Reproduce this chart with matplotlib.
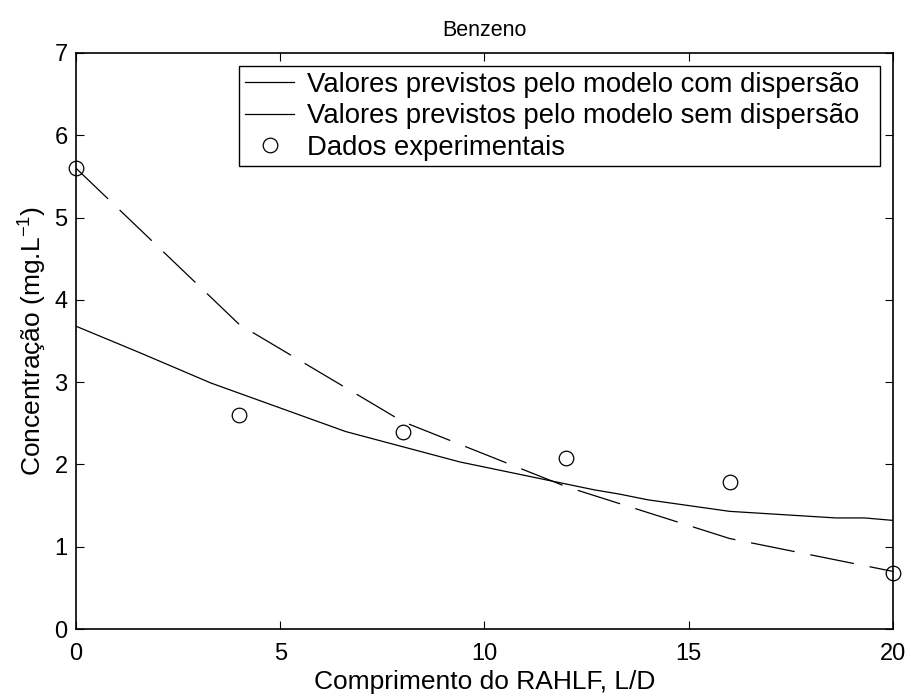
import numpy as np
import matplotlib
matplotlib.use('Agg')
import matplotlib.pyplot as plt
from matplotlib.lines import Line2D

plt.rcParams['font.family'] = ['Liberation Sans', 'DejaVu Sans']
plt.rcParams['mathtext.default'] = 'regular'
plt.rcParams['lines.scale_dashes'] = False

# modelo com dispersao (solucao numerica)
x_com = [0, 1.6, 3.3, 6.6, 9.4, 12.7, 13.3, 14.0, 16.0, 18.6, 19.3, 20]
y_com = [3.68, 3.35, 2.99, 2.40, 2.03, 1.69, 1.64, 1.57, 1.43, 1.35, 1.35, 1.32]

# modelo sem dispersao
x_sem = [0, 4, 8, 12, 16, 20]
y_sem = [5.6, 3.7, 2.52, 1.73, 1.1, 0.70]

# dados experimentais
x_exp = [0, 4, 8, 12, 16, 20]
y_exp = [5.6, 2.6, 2.4, 2.08, 1.79, 0.68]

fig = plt.figure(figsize=(9.11, 7.0), dpi=100)
ax = fig.add_axes([0.0834, 0.1014, 0.8968, 0.8229])

ax.plot(x_com, y_com, color='black', linewidth=0.9)
ax.plot(x_sem, y_sem, color='black', linewidth=0.9, dashes=(32, 11.5))
ax.plot(x_exp, y_exp, 'o', color='black', markerfacecolor='none',
        markersize=10.5, markeredgewidth=0.9, clip_on=False)

ax.set_xlim(0, 20)
ax.set_ylim(0, 7)
ax.set_xticks([0, 5, 10, 15, 20])
ax.set_yticks(range(8))
ax.tick_params(direction='in', length=6, width=0.8, top=True, right=True,
               labelsize=17)
ax.tick_params(axis='x', pad=10)
ax.tick_params(axis='y', pad=6)
for s in ax.spines.values():
    s.set_linewidth(1.2)

ax.set_title('Benzeno', fontsize=15.5, pad=12)
ax.set_xlabel('Comprimento do RAHLF, L/D', fontsize=19, labelpad=4)
ax.set_ylabel('Concentração (mg.L$^{-1}$)', fontsize=19, labelpad=4)

handles = [Line2D([], [], color='black', linewidth=0.9),
           Line2D([], [], color='black', linewidth=0.9),
           Line2D([], [], linestyle='none', marker='o', color='black',
                  markerfacecolor='none', markersize=10.5, markeredgewidth=0.9)]
labels = ['Valores previstos pelo modelo com dispersão',
          'Valores previstos pelo modelo sem dispersão',
          'Dados experimentais']
leg = ax.legend(handles, labels, loc='upper left',
                bbox_to_anchor=(0.2, 0.6, 0.784, 0.377), mode='expand',
                fontsize=19.8, fancybox=False, framealpha=1, edgecolor='black',
                handlelength=1.8, handletextpad=0.45, labelspacing=0.2,
                borderpad=0.2, borderaxespad=0)
leg.get_frame().set_linewidth(1.0)

plt.savefig('out.png', dpi=100)
